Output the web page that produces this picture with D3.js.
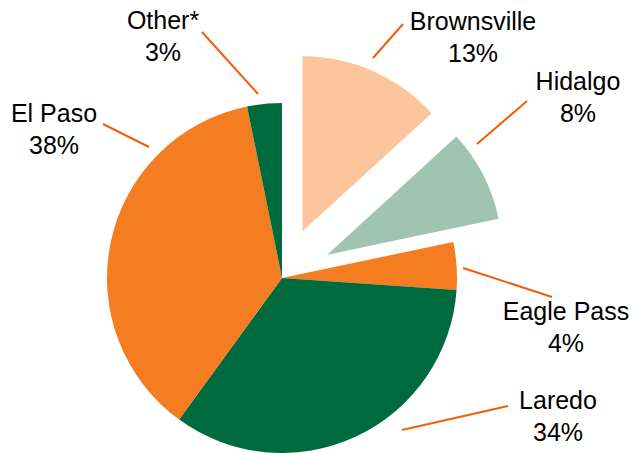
<!DOCTYPE html>
<html>
<head>
<meta charset="utf-8">
<script src="https://cdn.jsdelivr.net/npm/d3@7"></script>
<style>
  html, body { margin: 0; padding: 0; background: #fff; }
  text { font-family: "Liberation Sans", Arial, sans-serif; fill: #000; }
</style>
</head>
<body>
<div id="chart"></div>
<script>
"use strict"

// Share of each crossing, clockwise from 12 o'clock
const crossings = ["Brownsville", "Hidalgo", "Eagle Pass", "Laredo", "El Paso", "Other*"];
const shares = [13.2, 8.5, 4.4, 33.9, 36.8, 3.2];
const shareLabels = ["13%", "8%", "4%", "34%", "38%", "3%"];
const exploded = ["Brownsville", "Hidalgo"];

// Label placement (label centre / baseline, leader line ends)
const labelLayout = {
  "Brownsville": { x: 473, y: 30, line: [[403, 24], [373, 58]] },
  "Hidalgo":     { x: 578, y: 90, line: [[527, 101], [477, 144]] },
  "Eagle Pass":  { x: 566, y: 320, line: [[463, 268], [552, 297]] },
  "Laredo":      { x: 558, y: 409, line: [[508, 406], [402, 430]] },
  "El Paso":     { x: 54, y: 122, line: [[103, 124], [149, 147]] },
  "Other*":      { x: 163, y: 29, line: [[202, 32], [258, 94]] }
};

const width = 637, height = 453;
const cx = 282, cy = 278, radius = 175, explodeBy = 51;

const color = d3.scaleOrdinal()
  .domain(crossings)
  .range(["#fcc59b", "#9fc4b2", "#f47c21", "#006a3f", "#f47c21", "#006a3f"]);

window.addEventListener("load", drawPie);

function drawPie() {
  let svg = d3.select("#chart")
    .append("svg")
      .attr("width", width)
      .attr("height", height);

  let pie = d3.pie()
    .sort(null)
    .value((d, i) => shares[i]);

  let arc = d3.arc()
    .innerRadius(0)
    .outerRadius(radius);

  let slices = pie(crossings);

  svg.append("g")
      .attr("transform", `translate(${cx},${cy})`)
    .selectAll("path")
    .data(slices)
    .enter()
    .append("path")
      .attr("d", arc)
      .attr("fill", (d) => color(d.data))
      .attr("transform", function (d) {
        if (!exploded.includes(d.data)) return null;
        let mid = (d.startAngle + d.endAngle) / 2;
        return `translate(${Math.sin(mid) * explodeBy},${-Math.cos(mid) * explodeBy})`;
      });

  // Leader lines
  svg.append("g")
    .selectAll("line")
    .data(crossings)
    .enter()
    .append("line")
      .attr("x1", (d) => labelLayout[d].line[0][0])
      .attr("y1", (d) => labelLayout[d].line[0][1])
      .attr("x2", (d) => labelLayout[d].line[1][0])
      .attr("y2", (d) => labelLayout[d].line[1][1])
      .attr("stroke", "#f25c0a")
      .attr("stroke-width", 2);

  // Labels
  let labels = svg.append("g")
    .selectAll("text")
    .data(crossings)
    .enter()
    .append("text")
      .attr("text-anchor", "middle")
      .attr("font-size", 25)
      .attr("transform", (d) => `translate(${labelLayout[d].x},${labelLayout[d].y})`);

  labels.append("tspan")
      .attr("x", 0)
      .attr("y", 0)
      .text((d) => d);

  labels.append("tspan")
      .attr("x", 0)
      .attr("y", 31.5)
      .text((d, i) => shareLabels[i]);
}
</script>
</body>
</html>
